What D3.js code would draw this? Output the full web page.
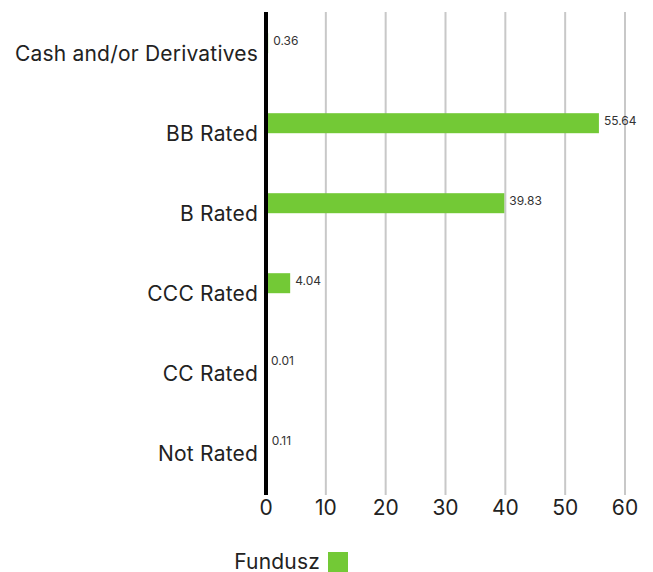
<!DOCTYPE html>
<html>
<head>
<meta charset="utf-8">
<script src="https://cdn.jsdelivr.net/npm/d3@7"></script>
<style>
  body { margin: 0; background: #fff; }
  svg { font-family: Inter, "Open Sans", sans-serif; }
</style>
</head>
<body>
<div id="chart"></div>
<script>
const width = 653;
const height = 572;

const categories = ["Cash and/or Derivatives", "BB Rated", "B Rated", "CCC Rated", "CC Rated", "Not Rated"];
const fundValues = [0.36, 55.64, 39.83, 4.04, 0.01, 0.11];
const xTicks = [0, 10, 20, 30, 40, 50, 60];
const seriesName = "Fundusz";

const plotLeft = 266, plotRight = 625, plotTop = 14, plotBottom = 494;
const barColor = "#73c936";

const data = categories.map((c, i) => ({ category: c, value: fundValues[i] }));

const svg = d3.select("#chart")
  .append("svg")
  .attr("width", width)
  .attr("height", height);

const xScale = d3.scaleLinear().domain([0, 60]).range([plotLeft, plotRight]);
const yScale = d3.scaleBand().domain(categories).range([plotTop, plotBottom]);

// grid
svg.append("g")
  .selectAll("line")
  .data(xTicks.filter((t) => t > 0))
  .enter()
  .append("line")
  .attr("x1", (d) => xScale(d))
  .attr("x2", (d) => xScale(d))
  .attr("y1", plotTop - 2)
  .attr("y2", plotBottom + 1)
  .attr("stroke", "#c8c8c8")
  .attr("stroke-width", 2);

// bars
const bw = yScale.bandwidth();
svg.append("g")
  .selectAll("rect")
  .data(data)
  .enter()
  .append("rect")
  .attr("x", xScale(0))
  .attr("y", (d) => yScale(d.category) + bw * 0.24)
  .attr("width", (d) => xScale(d.value) - xScale(0))
  .attr("height", bw * 0.25)
  .attr("fill", barColor);

// value labels
svg.append("g")
  .selectAll("text")
  .data(data)
  .enter()
  .append("text")
  .attr("x", (d) => xScale(d.value) + 5)
  .attr("y", (d) => yScale(d.category) + bw * 0.24 + 12)
  .attr("font-size", 12)
  .attr("fill", "#333")
  .text((d) => d.value.toFixed(2));

// zero axis line
svg.append("line")
  .attr("x1", xScale(0))
  .attr("x2", xScale(0))
  .attr("y1", plotTop - 2)
  .attr("y2", plotBottom + 1)
  .attr("stroke", "#000")
  .attr("stroke-width", 4);

// category labels
svg.append("g")
  .selectAll("text")
  .data(categories)
  .enter()
  .append("text")
  .attr("x", 258)
  .attr("y", (d) => yScale(d) + bw / 2)
  .attr("dy", "0.35em")
  .attr("text-anchor", "end")
  .attr("font-size", 21)
  .attr("letter-spacing", 0.2)
  .attr("fill", "#222")
  .text((d) => d);

// tick labels
svg.append("g")
  .selectAll("text")
  .data(xTicks)
  .enter()
  .append("text")
  .attr("x", (d) => xScale(d))
  .attr("y", 515)
  .attr("text-anchor", "middle")
  .attr("font-size", 21)
  .attr("fill", "#222")
  .text((d) => d);

// legend
const legend = svg.append("g");
legend.append("text")
  .attr("x", 320)
  .attr("y", 569)
  .attr("text-anchor", "end")
  .attr("font-size", 21)
  .attr("letter-spacing", 0.2)
  .attr("fill", "#222")
  .text(seriesName);
legend.append("rect")
  .attr("x", 328)
  .attr("y", 552)
  .attr("width", 20)
  .attr("height", 20)
  .attr("fill", barColor);
</script>
</body>
</html>
